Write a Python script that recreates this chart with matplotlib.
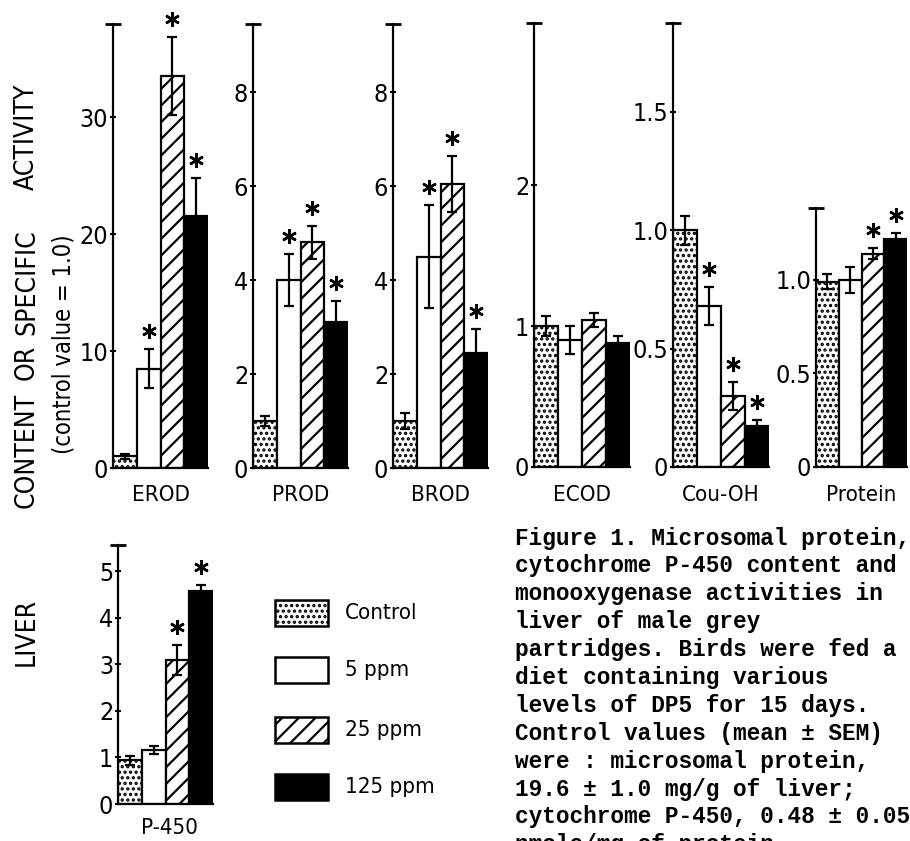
import numpy as np
import matplotlib
matplotlib.use("Agg")
import matplotlib.pyplot as plt
from matplotlib.patches import Rectangle
from matplotlib.transforms import offset_copy

plt.rcParams['font.family'] = ['DejaVu Sans']
plt.rcParams['font.stretch'] = 'condensed'
plt.rcParams['hatch.linewidth'] = 1.6

W, H = 910, 841

groups = ["Control", "5 ppm", "25 ppm", "125 ppm"]

panel_names = ["EROD", "PROD", "BROD", "ECOD", "Cou-OH", "Protein", "P-450"]

erod_mean = [1.0, 8.5, 33.5, 21.5]
erod_sem = [0.2, 1.7, 3.3, 3.3]
prod_mean = [1.0, 4.0, 4.8, 3.1]
prod_sem = [0.1, 0.55, 0.35, 0.45]
brod_mean = [1.0, 4.5, 6.05, 2.45]
brod_sem = [0.17, 1.1, 0.6, 0.5]
ecod_mean = [1.0, 0.9, 1.04, 0.88]
ecod_sem = [0.07, 0.1, 0.05, 0.05]
couoh_mean = [1.0, 0.68, 0.30, 0.175]
couoh_sem = [0.06, 0.08, 0.06, 0.025]
protein_mean = [0.99, 1.0, 1.14, 1.22]
protein_sem = [0.04, 0.07, 0.03, 0.03]
p450_mean = [0.94, 1.16, 3.09, 4.58]
p450_sem = [0.1, 0.09, 0.32, 0.12]

# significant vs control
erod_star = [0, 1, 1, 1]
prod_star = [0, 1, 1, 1]
brod_star = [0, 1, 1, 1]
ecod_star = [0, 0, 0, 0]
couoh_star = [0, 1, 1, 1]
protein_star = [0, 0, 1, 1]
p450_star = [0, 0, 1, 1]

erod_ticks = [0, 10, 20, 30]
prod_ticks = [0, 2, 4, 6, 8]
brod_ticks = [0, 2, 4, 6, 8]
ecod_ticks = [0, 1, 2]
couoh_ticks = [0, 0.5, 1.0, 1.5]
protein_ticks = [0, 0.5, 1.0]
p450_ticks = [0, 1, 2, 3, 4, 5]

erod_labels = ["0", "10", "20", "30"]
prod_labels = ["0", "2", "4", "6", "8"]
brod_labels = ["0", "2", "4", "6", "8"]
ecod_labels = ["0", "1", "2"]
couoh_labels = ["0", "0.5", "1.0", "1.5"]
protein_labels = ["0", "0.5", "1.0"]
p450_labels = ["0", "1", "2", "3", "4", "5"]

ymax_list = [37.95, 9.45, 9.45, 3.15, 1.876, 1.385, 5.56]

means = [erod_mean, prod_mean, brod_mean, ecod_mean, couoh_mean, protein_mean, p450_mean]
sems = [erod_sem, prod_sem, brod_sem, ecod_sem, couoh_sem, protein_sem, p450_sem]
stars = [erod_star, prod_star, brod_star, ecod_star, couoh_star, protein_star, p450_star]
ticks = [erod_ticks, prod_ticks, brod_ticks, ecod_ticks, couoh_ticks, protein_ticks, p450_ticks]
tlabels = [erod_labels, prod_labels, brod_labels, ecod_labels, couoh_labels, protein_labels, p450_labels]

hatches = ["...", "", "//", ""]
faces = ["white", "white", "white", "black"]

# pixel boxes: left, top of axis, zero line, width
boxes = [(113, 24, 468, 95), (253, 24, 468, 95), (393, 24, 468, 95),
         (534, 23, 467, 96), (673, 23, 467, 96), (816, 208, 467, 91),
         (118, 545, 804, 95)]

fig = plt.figure(figsize=(W / 100, H / 100), dpi=100)

# overlay in pixel coords for free text and legend
ov = fig.add_axes([0, 0, 1, 1])
ov.set_xlim(0, W)
ov.set_ylim(H, 0)
ov.axis('off')

for i in range(len(panel_names)):
    left, top, zero, wid = boxes[i]
    ax = fig.add_axes([left / W, 1 - zero / H, wid / W, (zero - top) / H])
    x = np.arange(4) + 0.5
    bars = ax.bar(x, means[i], width=1.0, color=faces, edgecolor='black', linewidth=1.6, zorder=2)
    for b, h in zip(bars, hatches):
        b.set_hatch(h)
    ax.errorbar(x, means[i], yerr=sems[i], fmt='none', ecolor='black',
                elinewidth=1.6, capsize=3.5, capthick=1.6, zorder=3)
    trans = offset_copy(ax.transData, fig=fig, y=13, units='points')
    for xi, m, s, st in zip(x, means[i], sems[i], stars[i]):
        if st:
            ax.plot(xi, m + s, marker=(6, 2, 0), ms=10.5, mew=1.8, color='black',
                    transform=trans, clip_on=False)
    ymax = ymax_list[i]
    ax.set_xlim(0, 4)
    ax.set_ylim(0, ymax)
    ax.plot([0], [ymax], marker='_', ms=11, mew=2, color='black', clip_on=False)
    ax.set_xticks([])
    ax.set_yticks(ticks[i])
    ax.set_yticklabels(tlabels[i])
    ax.tick_params(axis='y', direction='inout', length=5, width=1.5, pad=1, labelsize=18)
    for s in ['top', 'right']:
        ax.spines[s].set_visible(False)
    for s in ['left', 'bottom']:
        ax.spines[s].set_linewidth(1.6)
    ax.set_facecolor('none')
    if i < 6:
        ov.text(left + wid / 2, 495, panel_names[i], ha='center', va='center', fontsize=16)
    else:
        ov.text(left + wid / 2 + 4, 828, panel_names[i], ha='center', va='center', fontsize=16)

# y label
ylab_words = ["ACTIVITY", "SPECIFIC", "OR", "CONTENT", "LIVER"]
ylab_pos = [137, 282, 362, 450, 632]
for w, yp in zip(ylab_words, ylab_pos):
    ov.text(27, yp, w, rotation=90, ha='center', va='center', fontsize=19)
ov.text(63, 344, "(control value = 1.0)", rotation=90, ha='center', va='center', fontsize=17)

# legend
leg_y = [613, 670, 730, 787]
for g, h, fc, yc in zip(groups, hatches, faces, leg_y):
    ov.add_patch(Rectangle((275, yc - 13), 53, 26, facecolor=fc, edgecolor='black',
                           hatch=h, linewidth=1.8))
    ov.text(345, yc, g, ha='left', va='center', fontsize=16)

caption = ["Figure 1. Microsomal protein,",
           "cytochrome P-450 content and",
           "monooxygenase activities in",
           "liver of male grey",
           "partridges. Birds were fed a",
           "diet containing various",
           "levels of DP5 for 15 days.",
           "Control values (mean \u00b1 SEM)",
           "were : microsomal protein,",
           "19.6 \u00b1 1.0 mg/g of liver;",
           "cytochrome P-450, 0.48 \u00b1 0.05",
           "nmole/mg of protein."]
for k, line in enumerate(caption):
    ov.text(515, 538 + k * 27.9, line, family='Liberation Mono', weight='bold',
            fontsize=16.4, ha='left', va='center')

fig.savefig("out.png", dpi=100)
